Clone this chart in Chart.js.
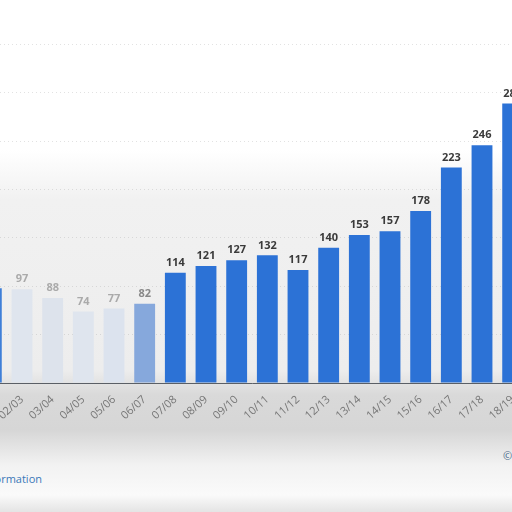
<!DOCTYPE html>
<html>
<head>
<meta charset="utf-8">
<script src="https://cdn.jsdelivr.net/npm/chart.js@4"></script>
<style>
  html, body { margin: 0; padding: 0; }
  body {
    width: 512px; height: 512px; overflow: hidden; position: relative;
    background: linear-gradient(to bottom, #ffffff 0px, #ffffff 150px, #f1f1f1 200px, #ededed 370px,
      #d9d9d9 395px, #d6d6d6 430px, #f2f2f2 465px, #fafafa 495px, #e4e4e4 512px);
    font-family: "Open Sans", "DejaVu Sans", sans-serif;
  }
  #wrap { position: absolute; left: -24px; top: 0; width: 552px; height: 440px; }
  #info { position: absolute; right: calc(100% - 42px); top: 471px; font-size: 11px; color: #3a78b8; white-space: nowrap; }
  #copy { position: absolute; left: 503px; top: 448px; font-size: 11px; color: #4a6a8a; white-space: nowrap; }
</style>
</head>
<body>
<div id="wrap"><canvas id="seasonChart"></canvas></div>
<div id="info">Additional Information</div>
<div id="copy">© Statista 2021</div>
<script>
// seasons and values
const seasons = ['01/02', '02/03', '03/04', '04/05', '05/06', '06/07', '07/08', '08/09', '09/10',
    '10/11', '11/12', '12/13', '13/14', '14/15', '15/16', '16/17', '17/18', '18/19'];
const values = [98, 97, 88, 74, 77, 82, 114, 121, 127, 132, 117, 140, 153, 157, 178, 223, 246, 289];
const yTicks = [0, 50, 100, 150, 200, 250, 300, 350];

// the older seasons are washed out in the picture
const barColors = ['#3f7fd8', '#dfe5ee', '#dde3ec', '#dfe5ee', '#dce3ee', '#86a8dc'];
const labelColors = ['#999', '#aaa', '#aaa', '#aaa', '#aaa', '#888'];

document.addEventListener('DOMContentLoaded', function() {
    const ctx = document.getElementById('seasonChart').getContext('2d');

    const valueLabels = {
        id: 'valueLabels',
        afterDatasetsDraw(chart) {
            const c = chart.ctx;
            const meta = chart.getDatasetMeta(0);
            c.save();
            c.font = "bold 11px 'Open Sans', 'DejaVu Sans', sans-serif";
            c.textAlign = 'center';
            c.textBaseline = 'middle';
            meta.data.forEach((bar, i) => {
                c.fillStyle = labelColors[i] || '#3a3a3a';
                c.fillText(values[i], bar.x, bar.y - 10);
            });
            c.restore();
        }
    };

    new Chart(ctx, {
        type: 'bar',
        data: {
            labels: seasons,
            datasets: [{
                data: values,
                backgroundColor: values.map((v, i) => barColors[i] || '#2c72d6'),
                categoryPercentage: 0.68,
                barPercentage: 1
            }]
        },
        options: {
            responsive: true,
            maintainAspectRatio: false,
            animation: false,
            layout: { padding: { top: 44.6, left: 0, right: 0, bottom: 0 } },
            plugins: {
                legend: { display: false },
                tooltip: { enabled: false }
            },
            scales: {
                x: {
                    grid: { display: false },
                    border: { display: true, color: '#5a5f66', width: 1 },
                    ticks: {
                        color: '#777',
                        maxRotation: 42,
                        minRotation: 42,
                        padding: 2,
                        font: { family: "'Open Sans', 'DejaVu Sans', sans-serif", size: 11 }
                    },
                    afterFit: function(scale) {
                        scale.paddingLeft = 0;
                        scale.paddingRight = 0;
                        scale.height = 57;
                    }
                },
                y: {
                    min: 0,
                    max: 350,
                    afterBuildTicks: function(scale) {
                        scale.ticks = yTicks.map(v => ({ value: v }));
                    },
                    ticks: { display: false },
                    border: { display: false, dash: [1, 3] },
                    grid: {
                        color: 'rgba(160, 160, 160, 0.3)',
                        drawTicks: false
                    },
                    afterFit: function(scale) { scale.width = 0; }
                }
            }
        },
        plugins: [valueLabels]
    });
});
</script>
</body>
</html>
